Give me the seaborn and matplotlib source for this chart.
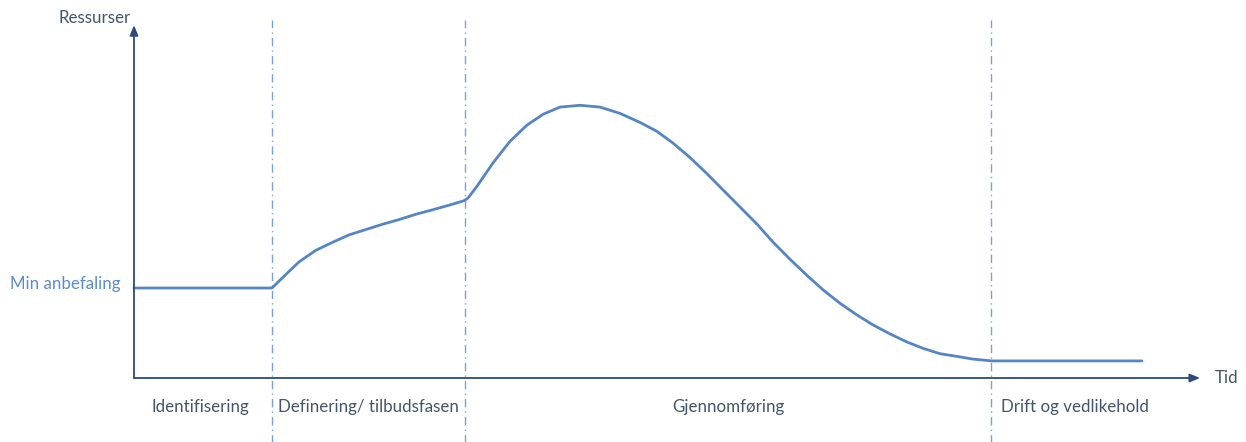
import matplotlib
matplotlib.use("Agg")
import matplotlib.pyplot as plt
import seaborn as sns
import pandas as pd

# ---------------- Data ----------------
# time (arbitrary units) and resource level (1.0 = "Min anbefaling")
tid = [0.00, 1.38, 1.49, 1.65, 1.82, 1.99, 2.15, 2.32, 2.49, 2.65, 2.82, 2.99,
       3.15, 3.30, 3.34, 3.43, 3.59, 3.76, 3.93, 4.09, 4.26, 4.46, 4.66, 4.86,
       5.06, 5.23, 5.39, 5.56, 5.73, 5.89, 6.06, 6.23, 6.39, 6.56, 6.73, 6.89,
       7.06, 7.23, 7.39, 7.56, 7.73, 7.89, 8.06, 8.23, 8.39, 8.58, 10.08]
ressurser = [1.00, 1.00, 1.12, 1.29, 1.42, 1.51, 1.59, 1.65, 1.71, 1.76, 1.82, 1.87,
             1.92, 1.97, 2.00, 2.13, 2.39, 2.63, 2.81, 2.93, 3.01, 3.03, 3.01, 2.94,
             2.84, 2.74, 2.61, 2.45, 2.27, 2.09, 1.90, 1.71, 1.51, 1.32, 1.14, 0.98,
             0.83, 0.70, 0.59, 0.49, 0.40, 0.33, 0.27, 0.24, 0.21, 0.19, 0.19]

fase_grenser = [1.38, 3.31, 8.57]
fase_navn = ["Identifisering", "Definering/ tilbudsfasen", "Gjennomføring", "Drift og vedlikehold"]
fase_midt = [0.66, 2.34, 5.94, 9.41]
min_anbefaling = 1.0

df = pd.DataFrame({"tid": tid, "ressurser": ressurser})

# ---------------- Style ----------------
sns.set_style("white")
plt.rcParams["font.family"] = ["Lato", "DejaVu Sans"]

axis_col = "#2c4a7c"
line_col = "#5585c5"
grid_col = "#7aa0d4"
text_col = "#44546a"
label_col = "#5b8bd0"

fig = plt.figure(figsize=(12.46, 4.42), dpi=100)
ax = fig.add_axes([0, 0, 1, 1])

# phase separators
for g in fase_grenser:
    ax.plot([g, g], [-0.72, 3.98], color=grid_col, lw=1, ls=(0, (6, 3, 1, 3)))

# axes with arrows
ax.annotate("", xy=(10.66, 0), xytext=(0, 0),
            arrowprops=dict(arrowstyle="-|>,head_length=0.6,head_width=0.25",
                            color=axis_col, lw=1.3, shrinkA=0, shrinkB=0))
ax.annotate("", xy=(0, 3.92), xytext=(0, 0),
            arrowprops=dict(arrowstyle="-|>,head_length=0.6,head_width=0.25",
                            color=axis_col, lw=1.3, shrinkA=0, shrinkB=0))

# resource curve
sns.lineplot(data=df, x="tid", y="ressurser", ax=ax, color=line_col, lw=2.0,
             sort=False, estimator=None)
ax.set_xlim(-1.34, 11.12)
ax.set_ylim(-0.711, 4.2)
ax.axis("off")

# texts
ax.text(-0.03, 4.0, "Ressurser", ha="right", va="center", fontsize=12.2, color=text_col)
ax.text(10.81, 0.0, "Tid", ha="left", va="center", fontsize=12.2, color=text_col)
ax.text(-0.14, min_anbefaling + 0.045, "Min anbefaling", ha="right", va="center",
        fontsize=12.2, color=label_col)
for navn, m in zip(fase_navn, fase_midt):
    ax.text(m, -0.32, navn, ha="center", va="center", fontsize=12.2, color=text_col)

fig.savefig("out.png", dpi=100)
